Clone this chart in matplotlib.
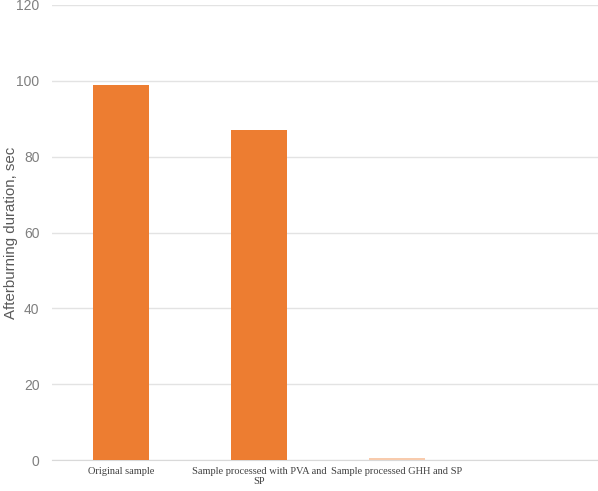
import matplotlib.pyplot as plt

# dados do gráfico
categorias = ["Original sample", "Sample processed with PVA and\nSP", "Sample processed GHH and SP", ""]
valores = [99, 87, 0.5, 0]
cores = ["#ED7D31", "#ED7D31", "#F8CBAD", "#ED7D31"]
yticks = [0, 20, 40, 60, 80, 100, 120]

fig = plt.figure(figsize=(5.98, 4.91), dpi=100)
ax = fig.add_axes([52 / 598, 31 / 491, 546 / 598, 455 / 491])

x = range(len(categorias))
ax.bar(x, valores, width=0.41, color=cores, zorder=3)

ax.set_xlim(-0.5, -0.5 + 546 / 138)
ax.set_ylim(0, 120)
ax.set_yticks(yticks)
ax.set_yticklabels([str(t) for t in yticks], fontsize=10, color="#7F7F7F",
                   family="Liberation Sans")
ax.set_xticks(list(x))
ax.set_xticklabels(categorias, fontsize=7.5, color="#404040", family="Liberation Serif",
                   linespacing=1.1)
ax.tick_params(axis="both", length=0)
ax.tick_params(axis="y", pad=9)
ax.tick_params(axis="x", pad=5)

ax.grid(axis="y", color="#E3E3E3", linewidth=1, zorder=0)
for lado in ["top", "right", "left"]:
    ax.spines[lado].set_visible(False)
ax.spines["bottom"].set_color("#D9D9D9")

ax.set_ylabel("Afterburning duration, sec", fontsize=10.8, color="#595959",
              family="Liberation Sans")
ax.yaxis.set_label_coords(-0.063, 0.5)

plt.savefig("out.png", dpi=100)
